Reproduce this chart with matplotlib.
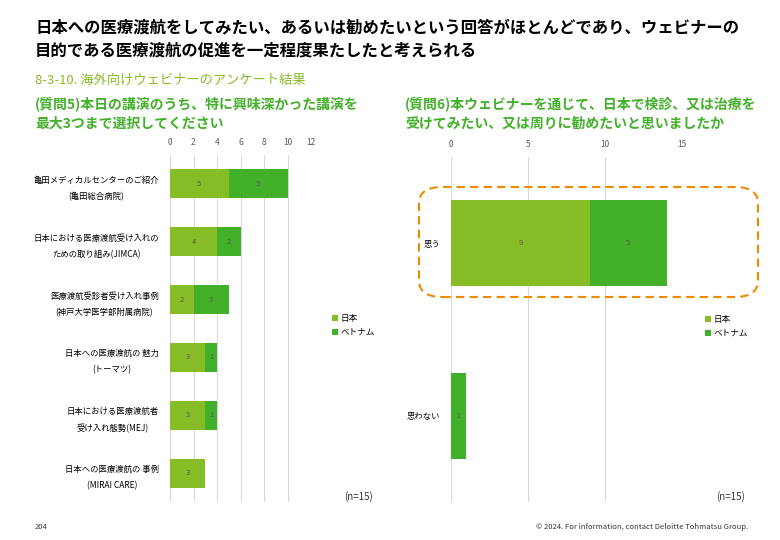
import matplotlib
matplotlib.use("Agg")
import matplotlib.pyplot as plt
from matplotlib.patches import FancyBboxPatch
import numpy as np

plt.rcParams['font.family'] = ['Noto Sans CJK JP', 'DejaVu Sans']

# data
q5_labels = ["亀田メディカルセンターのご紹介\n(亀田総合病院)",
             "日本における医療渡航受け入れの\nための取り組み(JIMCA)",
             "医療渡航受診者受け入れ事例\n(神戸大学医学部附属病院)",
             "日本への医療渡航の 魅力\n(トーマツ)",
             "日本における医療渡航者\n受け入れ態勢(MEJ)",
             "日本への医療渡航の 事例\n(MIRAI CARE)"]
q5_japan = [5, 4, 2, 3, 3, 3]
q5_vietnam = [5, 2, 3, 1, 1, 0]

q6_labels = ["思う", "思わない"]
q6_japan = [9, 0]
q6_vietnam = [5, 1]

series_names = ["日本", "ベトナム"]
c_jp = "#86BC25"
c_vn = "#43B02A"
c_grid = "#D9D9D9"
c_lab = "#595959"

W, H = 780, 540
fig = plt.figure(figsize=(W / 100, H / 100), dpi=100)


def px_axes(x0, y0, x1, y1):
    return fig.add_axes([x0 / W, 1 - y1 / H, (x1 - x0) / W, (y1 - y0) / H])


def stacked(ax, labels, jp, vn, xmax, step):
    y = np.arange(len(labels))
    jp = np.array(jp)
    vn = np.array(vn)
    b1 = ax.barh(y, jp, height=0.5, color=c_jp, linewidth=0, zorder=3)
    b2 = ax.barh(y, vn, left=jp, height=0.5, color=c_vn, linewidth=0, zorder=3)
    for vals, lefts in ((jp, np.zeros_like(jp)), (vn, jp)):
        for yy, v, l in zip(y, vals, lefts):
            if v > 0:
                ax.text(l + v / 2, yy, str(v), ha="center", va="center",
                        fontsize=5.5, color=c_lab, zorder=4)
    ax.set_xlim(0, xmax)
    ax.set_ylim(len(labels) - 0.5, -0.5)
    ax.set_xticks(np.arange(0, xmax + 0.1, step))
    ax.xaxis.tick_top()
    ax.tick_params(axis="x", length=0, labelsize=6, labelcolor=c_lab, pad=6)
    ax.tick_params(axis="y", length=0, labelsize=6, pad=8)
    ax.set_yticks(y)
    ax.set_yticklabels(labels, multialignment="center", linespacing=2.0)
    ax.grid(axis="x", color=c_grid, linewidth=0.8, zorder=0)
    for s in ax.spines.values():
        s.set_visible(False)
    return b1, b2


ax1 = px_axes(170, 155, 311, 502)
b1, b2 = stacked(ax1, q5_labels, q5_japan, q5_vietnam, 12, 2)
ax1.legend([b1, b2], series_names, loc="upper left", bbox_to_anchor=(324 / W, 1 - 306 / H),
           bbox_transform=fig.transFigure, frameon=False, fontsize=6.2,
           handlelength=0.7, handleheight=0.7, handletextpad=0.3, labelspacing=0.6)

ax2 = px_axes(451, 157, 682, 502)
c1, c2 = stacked(ax2, q6_labels, q6_japan, q6_vietnam, 15, 5)
ax2.legend([c1, c2], series_names, loc="upper left", bbox_to_anchor=(697 / W, 1 - 307 / H),
           bbox_transform=fig.transFigure, frameon=False, fontsize=6.2,
           handlelength=0.7, handleheight=0.7, handletextpad=0.3, labelspacing=0.6)

# dashed highlight around 思う
box = FancyBboxPatch((419 / W, 1 - 297 / H), (758 - 419) / W, (297 - 187) / H,
                     boxstyle="round,pad=0,rounding_size=0.03",
                     transform=fig.transFigure, fill=False, edgecolor="#ED8B00",
                     linewidth=1.5, linestyle=(0, (4, 2.5)), zorder=5)
fig.patches.append(box)

# titles
fig.text(35 / W, 1 - 27 / H, "日本への医療渡航をしてみたい、あるいは勧めたいという回答がほとんどであり、ウェビナーの",
         fontsize=11.8, fontweight="bold", va="center", ha="left", color="black")
fig.text(35 / W, 1 - 50 / H, "目的である医療渡航の促進を一定程度果たしたと考えられる",
         fontsize=11.8, fontweight="bold", va="center", ha="left", color="black")
fig.text(35 / W, 1 - 80 / H, "8-3-10. 海外向けウェビナーのアンケート結果",
         fontsize=9.5, va="center", ha="left", color=c_jp)
fig.text(35 / W, 1 - 104 / H, "(質問5)本日の講演のうち、特に興味深かった講演を",
         fontsize=10, fontweight="bold", va="center", ha="left", color=c_vn)
fig.text(35 / W, 1 - 124 / H, "最大3つまで選択してください",
         fontsize=10, fontweight="bold", va="center", ha="left", color=c_vn)
fig.text(405 / W, 1 - 104 / H, "(質問6)本ウェビナーを通じて、日本で検診、又は治療を",
         fontsize=10, fontweight="bold", va="center", ha="left", color=c_vn)
fig.text(405 / W, 1 - 124 / H, "受けてみたい、又は周りに勧めたいと思いましたか",
         fontsize=10, fontweight="bold", va="center", ha="left", color=c_vn)

fig.text(373 / W, 1 - 497 / H, "(n=15)", fontsize=7, ha="right", va="center", color="#333333")
fig.text(745 / W, 1 - 497 / H, "(n=15)", fontsize=7, ha="right", va="center", color="#333333")

fig.text(35 / W, 1 - 527 / H, "204", fontsize=5.5, ha="left", va="center", color="#333333")
fig.text(748 / W, 1 - 527 / H, "© 2024. For information, contact Deloitte Tohmatsu Group.",
         fontsize=5.5, ha="right", va="center", color="#333333")

fig.savefig("out.png", dpi=100)
